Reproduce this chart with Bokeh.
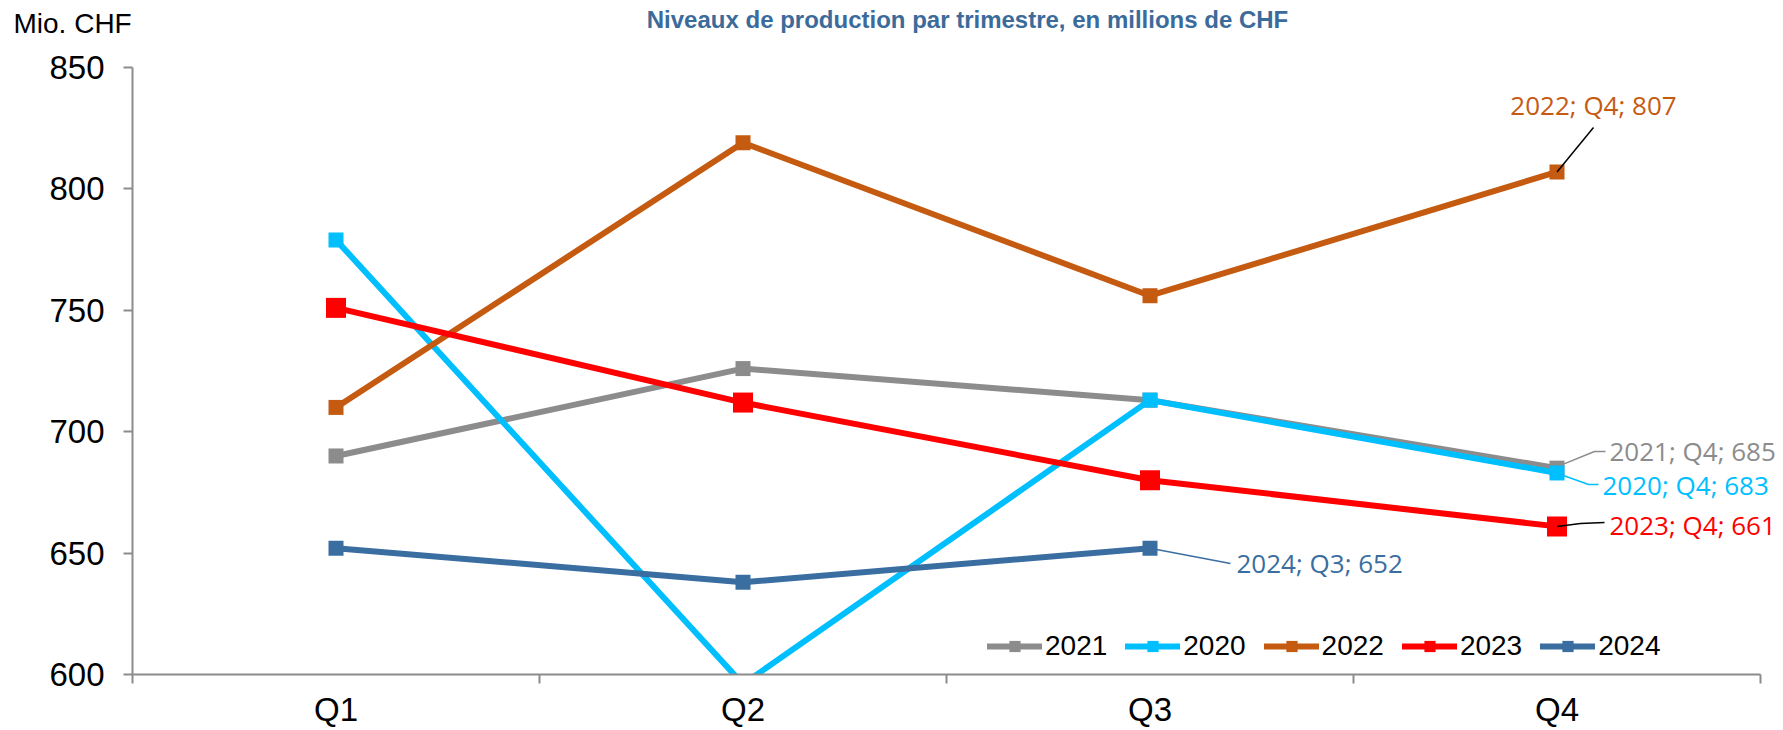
from bokeh.plotting import figure
from bokeh.models import Range1d, FixedTicker, Label, Legend, LegendItem
from bokeh.embed import file_html
from bokeh.resources import INLINE

# ---------------- data ----------------
quarters = ["Q1", "Q2", "Q3", "Q4"]
years = ["2021", "2020", "2022", "2023", "2024"]
v2021 = [690, 726, 713, 685]
v2020 = [779, 596, 713, 683]
v2022 = [710, 819, 756, 807]
v2023 = [751, 712, 680, 661]
v2024 = [652, 638, 652]
y_ticks = [600, 650, 700, 750, 800, 850]
title_text = "Niveaux de production par trimestre, en millions de CHF"
unit_text = "Mio. CHF"

# ---------------- styles ----------------
colors = {"2021": "#8C8C8C", "2020": "#00BFFF", "2022": "#C55A11",
          "2023": "#FF0000", "2024": "#3A6EA0"}
msize = {"2021": 15, "2020": 15, "2022": 15, "2023": 20, "2024": 15}
series = {"2021": v2021, "2020": v2020, "2022": v2022, "2023": v2023, "2024": v2024}
AXIS = "#8C8C8C"
TICK_FONT = "Liberation Sans"
LABEL_FONT = "Open Sans"

W, H = 1783, 730
AL, AR, AT, AB = 132, 1760, 67, 674          # axes box (page pixels)
PX = (AR - AL) / 4.0
PY = (AB - AT) / 250.0
# the frame reaches the right page edge so that the data labels are not clipped;
# axis bounds keep the visible x axis on the 0..4 span
x_end = 4 + (W - AR) / PX


def dx(px):
    return (px - AL) / PX


def dy(py):
    return 850 - (py - AT) / PY


p = figure(width=W, height=H, x_range=Range1d(0, x_end), y_range=Range1d(600, 850),
           output_backend="svg", toolbar_location=None,
           min_border_left=AL, min_border_right=0, min_border_top=AT, min_border_bottom=H - AB)
p.grid.visible = False
p.outline_line_color = None
p.background_fill_color = "white"
p.border_fill_color = "white"

# x axis: category labels at centres, tick marks at category boundaries
xa = p.xaxis[0]
xa.bounds = (0, 4)
xa.ticker = FixedTicker(ticks=[i + 0.5 for i in range(len(quarters))],
                        minor_ticks=list(range(len(quarters) + 1)))
xa.major_label_overrides = {i + 0.5: q for i, q in enumerate(quarters)}
xa.major_tick_out = 0
xa.major_tick_in = 0
xa.major_tick_line_color = None
xa.minor_tick_out = 9
xa.minor_tick_in = 0
xa.minor_tick_line_color = AXIS
xa.minor_tick_line_width = 2
xa.axis_line_color = AXIS
xa.axis_line_width = 2
xa.major_label_standoff = 7
xa.major_label_text_font = TICK_FONT
xa.major_label_text_font_size = "33px"
xa.major_label_text_color = "black"

ya = p.yaxis[0]
ya.ticker = FixedTicker(ticks=y_ticks)
ya.major_tick_out = 9
ya.major_tick_in = 0
ya.minor_tick_line_color = None
ya.axis_line_color = AXIS
ya.axis_line_width = 2
ya.major_tick_line_color = AXIS
ya.major_tick_line_width = 2
ya.major_label_standoff = 19
ya.major_label_text_font = TICK_FONT
ya.major_label_text_font_size = "33px"
ya.major_label_text_color = "black"

# series
items = []
for yr in years:
    vals = series[yr]
    xs = [i + 0.5 for i in range(len(vals))]
    lr = p.line(xs, vals, line_color=colors[yr], line_width=6, line_join="round", line_cap="round")
    sr = p.scatter(xs, vals, marker="square", size=msize[yr], fill_color=colors[yr], line_color=None)
    items.append(LegendItem(label=yr, renderers=[lr, sr]))

legend = Legend(items=items, orientation="horizontal", location=(855, 12),
                glyph_width=55, glyph_height=28, label_standoff=3, spacing=18,
                padding=0, margin=0, border_line_color=None, background_fill_alpha=0,
                label_text_font=TICK_FONT, label_text_font_size="28px",
                label_text_color="black")
p.add_layout(legend)


# data labels with leader lines (pixel positions in page coordinates)
def qx(i):
    return AL + (i + 0.5) * PX


def vy(v):
    return AT + (850 - v) * PY


annots = [
    ("2022", 3, [(qx(3), vy(807)), (1593, 127)], (1593, 104), "center", "black"),
    ("2021", 3, [(qx(3) + 4, vy(685) - 3), (1594, 451), (1605, 451)], (1609, 450), "left", colors["2021"]),
    ("2020", 3, [(qx(3) + 5, vy(683) + 2), (1588, 484), (1598, 484)], (1602, 484), "left", colors["2020"]),
    ("2023", 3, [(qx(3), vy(661)), (1580, 523), (1604, 522)], (1609, 524), "left", "black"),
    ("2024", 2, [(qx(2), vy(652)), (1230, 563)], (1236, 562), "left", colors["2024"]),
]
for yr, qi, pts, (tx, ty), align, lc in annots:
    p.line([dx(a) for a, _ in pts], [dy(b) for _, b in pts], line_color=lc, line_width=1.5)
    txt = "%s; %s; %d" % (yr, quarters[qi], series[yr][qi])
    p.add_layout(Label(x=dx(tx), y=dy(ty), text=txt, text_align=align, text_baseline="middle",
                       text_font=LABEL_FONT, text_font_size="26px", text_color=colors[yr]))

# title and unit, in the panel above the frame
p.add_layout(Label(x=dx(967), y=dy(19), text=title_text, text_align="center", text_baseline="middle",
                   text_font=TICK_FONT, text_font_style="bold", text_font_size="24px",
                   text_color="#3B6B9A"), "above")
p.add_layout(Label(x=dx(13), y=dy(23), text=unit_text, text_align="left", text_baseline="middle",
                   text_font=TICK_FONT, text_font_size="28px", text_color="black"), "above")

open("out.html", "w").write(file_html(p, INLINE))
